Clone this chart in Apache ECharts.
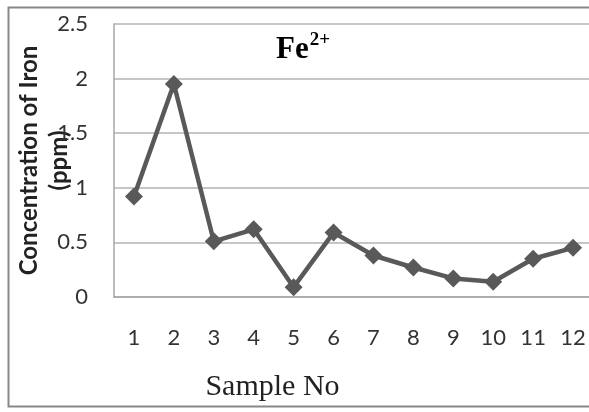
<!DOCTYPE html>
<html>
<head>
<meta charset="utf-8">
<script src="https://cdn.jsdelivr.net/npm/echarts@6/dist/echarts.min.js"></script>
<style>
  html, body { margin: 0; padding: 0; background: #fff; }
  #chart { width: 589px; height: 412px; }
</style>
</head>
<body>
<div id="chart"></div>
<script>
// sample numbers along the x axis
const categories = ['1', '2', '3', '4', '5', '6', '7', '8', '9', '10', '11', '12'];
// Fe2+ concentration (ppm)
const ironValues = [0.92, 1.95, 0.51, 0.62, 0.09, 0.59, 0.38, 0.27, 0.17, 0.14, 0.35, 0.45];
// value axis range
const yMin = 0;
const yMax = 2.5;
const yStep = 0.5;

const chart = echarts.init(document.getElementById('chart'), null, { renderer: 'canvas' });

const labelFont = 'Lato, "Open Sans", sans-serif';
const serifFont = '"Liberation Serif", "DejaVu Serif", serif';

chart.setOption({
  animation: false,
  backgroundColor: '#fff',
  // outer chart frame
  graphic: [{
    type: 'rect',
    left: 6, top: 5,
    shape: { width: 600, height: 399 },
    style: { fill: 'none', stroke: '#888', lineWidth: 2 },
    z: 0
  }],
  title: {
    text: '{b|Fe}{s|2+}',
    left: 271,
    top: 26,
    textStyle: {
      rich: {
        b: { fontFamily: serifFont, fontWeight: 'bold', fontSize: 31, color: '#000' },
        s: { fontFamily: serifFont, fontWeight: 'bold', fontSize: 19, color: '#000', padding: [0, 0, 18, 1] }
      }
    }
  },
  grid: { left: 114, top: 24, width: 479, height: 273, outerBoundsMode: 'none', containLabel: false },
  xAxis: {
    type: 'category',
    data: categories,
    boundaryGap: true,
    axisTick: { show: false },
    axisLine: { lineStyle: { color: '#a6a6a6', width: 1.5 } },
    axisLabel: { margin: 30, fontFamily: labelFont, fontSize: 22, color: '#333' },
    name: 'Sample No',
    nameLocation: 'middle',
    nameGap: 75,
    nameMoveOverlap: false,
    nameTextStyle: {
      fontFamily: serifFont, fontSize: 30, color: '#222',
      padding: [0, 162, 0, 0]
    }
  },
  yAxis: {
    type: 'value',
    min: yMin,
    max: yMax,
    interval: yStep,
    axisLine: { show: true, lineStyle: { color: '#a6a6a6', width: 1.5 } },
    axisTick: { show: false },
    splitLine: { lineStyle: { color: '#b3b3b3', width: 1.5 } },
    axisLabel: { margin: 26, fontFamily: labelFont, fontSize: 22, color: '#333' },
    name: 'Concentration of Iron\n(ppm)',
    nameLocation: 'middle',
    nameRotate: 90,
    nameGap: 40,
    nameMoveOverlap: false,
    nameTextStyle: {
      fontFamily: labelFont, fontWeight: 'bold', fontSize: 24, lineHeight: 30, color: '#222', align: 'center'
    }
  },
  series: [{
    type: 'line',
    data: ironValues,
    symbol: 'diamond',
    symbolSize: 18,
    lineStyle: { color: '#595959', width: 4.5 },
    itemStyle: { color: '#595959' },
    z: 3
  }]
});
</script>
</body>
</html>
